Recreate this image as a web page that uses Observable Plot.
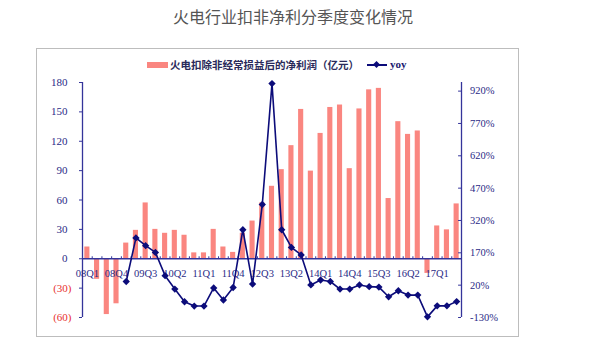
<!DOCTYPE html>
<html>
<head>
<meta charset="utf-8">
<script src="https://cdn.jsdelivr.net/npm/d3@7"></script>
<script src="https://cdn.jsdelivr.net/npm/@observablehq/plot@0.6"></script>
<style>
  html, body { margin: 0; padding: 0; background: #fff; }
  #wrap { position: relative; width: 590px; height: 358px; overflow: hidden; }
  #title { position: absolute; left: -2px; top: 5px; width: 590px; text-align: center;
           font-family: "Noto Sans CJK SC", sans-serif; font-size: 16px; line-height: 22px; color: #555; }
  #box { position: absolute; left: 36px; top: 48px; width: 481px; height: 287px; border: 1px solid #bdbdbd; }
  #chart { position: absolute; left: 0; top: 0; }
  .leg { position: absolute; font-size: 10.5px; line-height: 14px; color: #2a2a5a; }
  #legBarSw { position: absolute; left: 147px; top: 62px; width: 21px; height: 6px; background: #fa8680; }
  #legBarTx { left: 170px; top: 58px; font-family: "Noto Sans CJK SC", sans-serif; font-weight: 700; }
  #legLine { position: absolute; left: 367px; top: 64px; width: 20px; height: 1.6px; background: #0c0c7a; }
  #legDia { position: absolute; left: 374px; top: 62px; width: 5px; height: 5px; background: #0c0c7a; transform: rotate(45deg); }
  #legLineTx { left: 390px; top: 57px; font-family: "Liberation Serif", serif; font-weight: 700; font-size: 11px; color: #1a1a70; }
</style>
</head>
<body>
<div id="wrap">
  <div id="title">火电行业扣非净利分季度变化情况</div>
  <div id="box"></div>
  <div id="legBarSw"></div>
  <div class="leg" id="legBarTx">火电扣除非经常损益后的净利润（亿元）</div>
  <div id="legLine"></div>
  <div id="legDia"></div>
  <div class="leg" id="legLineTx">yoy</div>
  <div id="chart"></div>
</div>
<script>
// ---- data ----
const quarters = ["08Q1","08Q2","08Q3","08Q4","09Q1","09Q2","09Q3","09Q4",
  "10Q1","10Q2","10Q3","10Q4","11Q1","11Q2","11Q3","11Q4",
  "12Q1","12Q2","12Q3","12Q4","13Q1","13Q2","13Q3","13Q4",
  "14Q1","14Q2","14Q3","14Q4","15Q1","15Q2","15Q3","15Q4",
  "16Q1","16Q2","16Q3","16Q4","17Q1","17Q2","17Q3"];
// 火电扣除非经常损益后的净利润（亿元）
const profit = [12, -21, -57, -46, 16, 29, 57, 30,
  26, 29, 24, 6, 6, 30, 12, 6.5,
  26, 38.5, 57, 74, 91, 115.5, 152.5, 89.5,
  128, 154.5, 157, 92, 153, 172.5, 174, 61.5,
  140, 127, 130.5, -15, 33.5, 29.5, 56];
// yoy (%) from 09Q1
const yoyQuarters = quarters.slice(4);
const yoy = [37, 239, 203, 172, 64, 2, -57, -77, -77, 7, -49, 9,
  277, 25, 394, 955, 277, 195, 160, 21, 44, 37, 2, 2,
  21, 13, 11, -34, -6, -26, -26, -127, -76, -76, -56];
const leftTicks = [-60, -30, 0, 30, 60, 90, 120, 150, 180];
const rightTicks = [-130, 20, 170, 320, 470, 620, 770, 920];
const xTickLabels = ["08Q1","08Q4","09Q3","10Q2","11Q1","11Q4","12Q3","13Q2","14Q1","14Q4","15Q3","16Q2","17Q1"];

// ---- scales helpers ----
const leftDomain = [-60, 180];
const rightDomain = [-130, 960];
const toLeft = v => leftDomain[0] + (v - rightDomain[0]) * (leftDomain[1] - leftDomain[0]) / (rightDomain[1] - rightDomain[0]);
const fromLeft = y => rightDomain[0] + (y - leftDomain[0]) * (rightDomain[1] - rightDomain[0]) / (leftDomain[1] - leftDomain[0]);

const bars = quarters.map((q, i) => ({i, q, v: profit[i]}));
const yoyData = yoyQuarters.map((q, k) => ({i: quarters.indexOf(q), q, v: yoy[k]}));
const labelData = xTickLabels.map(q => ({i: quarters.indexOf(q), q}));
const n = quarters.length;
const boundaries = d3.range(n - 1).map(i => i + 0.5);

const axisColor = "#34349a";
const labelColor = "#2a2a86";
const lineColor = "#0c0c7a";
const barColor = "#fa8680";
const serif = "Liberation Serif";

const chart = Plot.plot({
  width: 590,
  height: 358,
  marginLeft: 82,
  marginRight: 129,
  marginTop: 82,
  marginBottom: 41,
  x: {type: "linear", domain: [-0.5, n - 0.5], axis: null},
  y: {domain: leftDomain},
  style: {background: "transparent", fontFamily: serif, fontSize: "11px", overflow: "visible"},
  marks: [
    Plot.rectY(bars, {x1: d => d.i - 0.5, x2: d => d.i + 0.5, y1: 0, y2: d => d.v,
      fill: barColor, insetLeft: 2.3, insetRight: 2.3}),
    Plot.ruleY([0], {stroke: axisColor, strokeWidth: 1.3}),
    Plot.ruleX(boundaries, {x: d => d, y1: 0, y2: 2, stroke: axisColor}),
    Plot.ruleX([-0.5, n - 0.5], {x: d => d, y1: leftDomain[0], y2: leftDomain[1], stroke: axisColor, strokeWidth: 1.3}),
    Plot.axisY(leftTicks.filter(d => d >= 0), {anchor: "left", label: null, tickSize: 3, tickPadding: 12,
      tickFormat: d => String(d), stroke: axisColor, fill: labelColor, fontSize: 11}),
    Plot.axisY(leftTicks.filter(d => d < 0), {anchor: "left", label: null, tickSize: 3, tickPadding: 8,
      tickFormat: d => `(${-d})`, stroke: axisColor, fill: "#e8302f", fontSize: 11}),
    Plot.axisY(rightTicks.map(toLeft), {anchor: "right", label: null, tickSize: 0, tickPadding: 8.5,
      tickFormat: d => Math.round(fromLeft(d)) + "%", fill: labelColor, fontSize: 10.5}),
    Plot.ruleY(rightTicks.map(toLeft), {y: d => d, x1: n - 0.5 - 0.3, x2: n - 0.5, stroke: axisColor}),
    Plot.text(labelData, {x: "i", y: 0, dy: 15, text: "q", fill: labelColor, fontSize: 10.5, fontFamily: serif}),
    Plot.line(yoyData, {x: "i", y: d => toLeft(d.v), stroke: lineColor, strokeWidth: 1.6}),
    Plot.dot(yoyData, {x: "i", y: d => toLeft(d.v), symbol: "diamond2", r: 3.3, fill: lineColor, stroke: null})
  ]
});
document.getElementById("chart").appendChild(chart);
</script>
</body>
</html>
